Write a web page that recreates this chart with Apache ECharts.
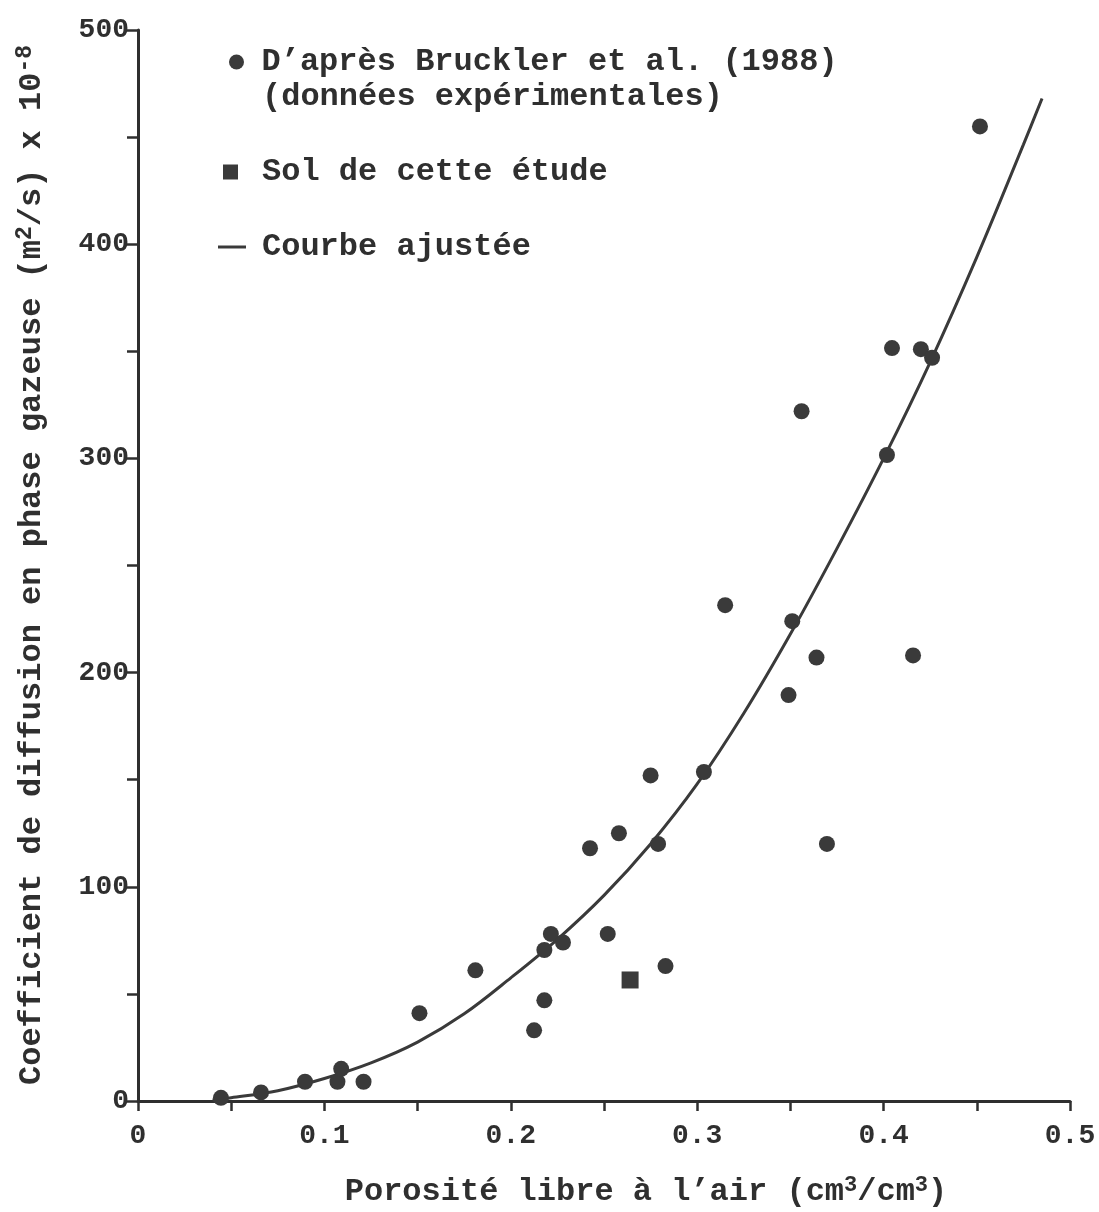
<!DOCTYPE html>
<html>
<head>
<meta charset="utf-8">
<script src="https://cdn.jsdelivr.net/npm/echarts@6/dist/echarts.min.js"></script>
<style>
html,body{margin:0;padding:0;background:#fff;}
#chart{width:1099px;height:1212px;}
</style>
</head>
<body>
<div id="chart"></div>
<script>
// Données expérimentales (Bruckler et al., 1988)
const brucklerX = [0.0445,0.066,0.0896,0.107,0.109,0.121,0.151,0.181,0.2125,0.218,0.218,0.2215,0.228,0.2425,0.252,0.258,0.275,0.279,0.283,0.3036,0.315,0.349,0.351,0.356,0.364,0.3696,0.4018,0.4045,0.4158,0.42,0.426,0.4517];
const brucklerY = [1.5,4,9,9,15,9,41,61,33,47,70.5,78,74,118,78,125,152,120,63,153.6,231.5,189.5,224,322,207,120,301.6,351.5,208,351,347,455];
// Sol de cette étude
const solX = [0.264];
const solY = [56.5];
// Courbe ajustée
const curveX = [0.04,0.05,0.075,0.10,0.125,0.15,0.175,0.20,0.225,0.25,0.275,0.30,0.325,0.35,0.375,0.40,0.425,0.45,0.475,0.485];
const curveY = [0.5,1.5,4.8,10.5,17.8,27.5,40.7,57.5,75.5,96,120,148,181,218,258,300,345,394,446.5,468];
// Tick labels
const xTickValues = [0,0.1,0.2,0.3,0.4,0.5];
const xTickLabels = ['0','0.1','0.2','0.3','0.4','0.5'];
const yTickValues = [0,100,200,300,400,500];
const yTickLabels = ['0','100','200','300','400','500'];

const seriesNames = ["D\u2019après Bruckler et al. (1988)", "Sol de cette étude", "Courbe ajustée"];

const ink = '#2f2f2f';
const mark = '#3a3a3a';
const FONT = '"Liberation Mono", "DejaVu Sans Mono", monospace';

function zip(a, b){ return a.map((v,i)=>[v,b[i]]); }
function tickLabel(values, labels){
  return function(v){
    for (let i=0;i<values.length;i++){ if (Math.abs(values[i]-v) < 1e-9) return labels[i]; }
    return '';
  };
}

const chart = echarts.init(document.getElementById('chart'), null, {renderer:'canvas'});
const legendText = {fontFamily: FONT, fontWeight: 'bold', fontSize: 32, color: ink, lineHeight: 34};
chart.setOption({
  backgroundColor: '#ffffff',
  animation: false,
  grid: {left: 138, right: 29, top: 30, bottom: 111, containLabel: false},
  xAxis: {
    type: 'value', min: 0, max: 0.5, interval: 0.1,
    axisLine: {show: true, onZero: false, lineStyle: {color: ink, width: 3}},
    axisTick: {show: true, length: 10, lineStyle: {color: ink, width: 2.5}},
    minorTick: {show: true, splitNumber: 2, length: 10, lineStyle: {color: ink, width: 2.5}},
    splitLine: {show: false}, minorSplitLine: {show: false},
    axisLabel: {margin: 21, fontFamily: FONT, fontWeight: 'bold', fontSize: 28, color: ink,
      formatter: tickLabel(xTickValues, xTickLabels)}
  },
  yAxis: {
    type: 'value', min: 0, max: 500, interval: 100,
    axisLine: {show: true, onZero: false, lineStyle: {color: ink, width: 3}},
    axisTick: {show: true, length: 11, lineStyle: {color: ink, width: 2.5}},
    minorTick: {show: true, splitNumber: 2, length: 11, lineStyle: {color: ink, width: 2.5}},
    splitLine: {show: false}, minorSplitLine: {show: false},
    axisLabel: {margin: 9, fontFamily: FONT, fontWeight: 'bold', fontSize: 28, color: ink,
      formatter: tickLabel(yTickValues, yTickLabels)}
  },
  legend: [
    {data: [{name: seriesNames[0], icon: 'circle'}], orient: 'vertical', left: 229, top: 45, padding: 0,
     itemWidth: 16, itemHeight: 15, textStyle: Object.assign({padding: [0,0,0,12]}, legendText), selectedMode: false},
    {data: [{name: seriesNames[1], icon: 'rect'}], orient: 'vertical', left: 223, top: 155, padding: 0,
     itemWidth: 15, itemHeight: 15, textStyle: Object.assign({padding: [0,0,0,19]}, legendText), selectedMode: false},
    {data: [{name: seriesNames[2], icon: 'rect'}], orient: 'vertical', left: 218, top: 230, padding: 0,
     itemWidth: 28, itemHeight: 3, textStyle: Object.assign({padding: [0,0,0,11]}, legendText), selectedMode: false}
  ],
  graphic: [
    {type: 'text', left: 262, top: 81, silent: true,
     style: {text: '(données expérimentales)', font: 'bold 32px ' + FONT, fill: ink}},
    {type: 'text', x: 646, y: 1192, silent: true,
     style: {text: 'Porosité libre à l\u2019air (cm{sup|3}/cm{sup|3})', font: 'bold 32px ' + FONT, fill: ink,
       align: 'center', verticalAlign: 'middle',
       rich: {sup: {font: 'bold 22px ' + FONT, fill: ink, verticalAlign: 'top', padding: [0,0,14,0]}}}},
    {type: 'text', x: 32, y: 565, rotation: Math.PI/2, silent: true,
     style: {text: 'Coefficient de diffusion en phase gazeuse (m{sup|2}/s) x 10{sup|-8}', font: 'bold 32px ' + FONT, fill: ink,
       align: 'center', verticalAlign: 'middle',
       rich: {sup: {font: 'bold 23px ' + FONT, fill: ink, padding: [0,0,14,0]}}}}
  ],
  series: [
    {name: seriesNames[0], type: 'scatter', data: zip(brucklerX, brucklerY), symbol: 'circle', symbolSize: 16,
     itemStyle: {color: mark, opacity: 1}, z: 3},
    {name: seriesNames[1], type: 'scatter', data: zip(solX, solY), symbol: 'rect', symbolSize: 17,
     itemStyle: {color: mark, opacity: 1}, z: 3},
    {name: seriesNames[2], type: 'line', data: zip(curveX, curveY), smooth: 0.35, symbol: 'none', showSymbol: false,
     lineStyle: {color: mark, width: 3}, itemStyle: {color: mark}, z: 2}
  ]
});
</script>
</body>
</html>
